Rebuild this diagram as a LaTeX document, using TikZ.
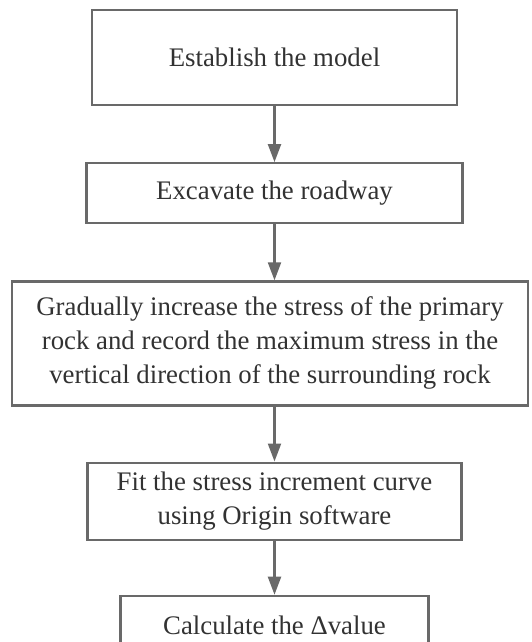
\documentclass[tikz,border=0pt]{standalone}
\usepackage{fontspec}
\setmainfont{Liberation Serif}
\usetikzlibrary{positioning, arrows.meta}
\definecolor{boxgray}{RGB}{105,105,105}
\definecolor{txtgray}{RGB}{50,50,50}

\begin{document}
\begin{tikzpicture}[x=1pt, y=1pt, block/.style={rectangle, draw=boxgray, line width=2.2pt, text=txtgray, align=center, inner sep=0pt, font=\fontsize{26.8}{34}\selectfont}, node distance=56pt, flow/.style={-{Triangle[length=18pt,width=13pt]}, draw=boxgray, line width=2.2pt} ]
\useasboundingbox (0,0) rectangle (531,-642);
\clip (0,0) rectangle (531,-642);
\node (b1) [block, minimum width=365pt, minimum height=95pt] at (274.5,-57.5) {Establish the model};
\node (b2) [block, below=of b1, minimum width=376pt, minimum height=60pt] {Excavate the roadway};
\node (b3) [block, below=of b2, xshift=-4.5pt, minimum width=516pt, minimum height=124pt] {Gradually increase the stress of the primary\\rock and record the maximum stress in the\\vertical direction of the surrounding rock};
\node (b4) [block, below=55pt of b3, xshift=4.5pt, minimum width=374pt, minimum height=77pt] {Fit the stress increment curve\\using Origin software};
\node (b5) [block, below=54pt of b4, minimum width=308pt, minimum height=60pt] {Calculate the Δvalue};
  \draw [flow] (b1) -- (b2);
  \draw [flow] (b2.south) -- (b2.south |- b3.north);
  \draw [flow] (b4.north |- b3.south) -- (b4.north);
  \draw [flow] (b4) -- (b5);
\end{tikzpicture}
\end{document}
